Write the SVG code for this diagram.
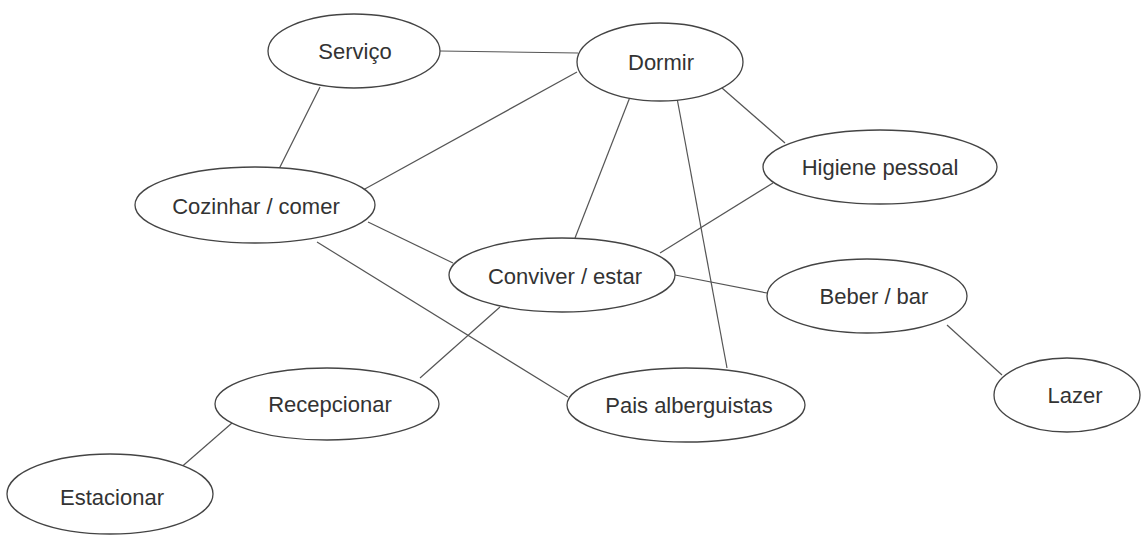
<svg xmlns="http://www.w3.org/2000/svg" width="1141" height="536" viewBox="0 0 1141 536">
<style>
.n ellipse{fill:#fff;stroke:#444;stroke-width:1.3}
.n text{font-family:"Liberation Sans",Arial,sans-serif;font-size:22px;fill:#333;text-anchor:middle}
#edges line{stroke:#555;stroke-width:1.2}
</style>
<rect width="1141" height="536" fill="#fff"/>
<g id="edges">
<line x1="440" y1="51" x2="578" y2="53"/>
<line x1="320" y1="87" x2="277" y2="173"/>
<line x1="577" y1="72" x2="363" y2="190"/>
<line x1="630" y1="97" x2="575" y2="238"/>
<line x1="677" y1="98" x2="727" y2="368"/>
<line x1="722" y1="88" x2="785" y2="143"/>
<line x1="368" y1="222" x2="453" y2="263"/>
<line x1="317" y1="242" x2="568" y2="397"/>
<line x1="660" y1="253" x2="773" y2="183"/>
<line x1="675" y1="275" x2="767" y2="293"/>
<line x1="500" y1="307" x2="420" y2="378"/>
<line x1="947" y1="325" x2="1002" y2="375"/>
<line x1="232" y1="423" x2="178" y2="470"/>
</g>
<g id="servico" class="n"><ellipse cx="354" cy="51" rx="86" ry="37"/><text x="355" y="59">Serviço</text></g>
<g id="dormir" class="n"><ellipse cx="660" cy="62" rx="83" ry="39"/><text x="661" y="70">Dormir</text></g>
<g id="higiene" class="n"><ellipse cx="880" cy="167" rx="117" ry="37"/><text x="880" y="175">Higiene pessoal</text></g>
<g id="cozinhar" class="n"><ellipse cx="255" cy="205" rx="120" ry="38"/><text x="256" y="214">Cozinhar / comer</text></g>
<g id="conviver" class="n"><ellipse cx="562" cy="275" rx="113" ry="37"/><text x="565" y="284">Conviver / estar</text></g>
<g id="beber" class="n"><ellipse cx="867" cy="296" rx="100" ry="37"/><text x="874" y="304">Beber / bar</text></g>
<g id="lazer" class="n"><ellipse cx="1067" cy="395" rx="73" ry="37"/><text x="1075" y="403">Lazer</text></g>
<g id="recepcionar" class="n"><ellipse cx="327" cy="404" rx="112" ry="36"/><text x="330" y="412">Recepcionar</text></g>
<g id="pais" class="n"><ellipse cx="686" cy="405" rx="119" ry="37"/><text x="689" y="413">Pais alberguistas</text></g>
<g id="estacionar" class="n"><ellipse cx="110" cy="494" rx="103" ry="40"/><text x="112" y="505">Estacionar</text></g>
</svg>
